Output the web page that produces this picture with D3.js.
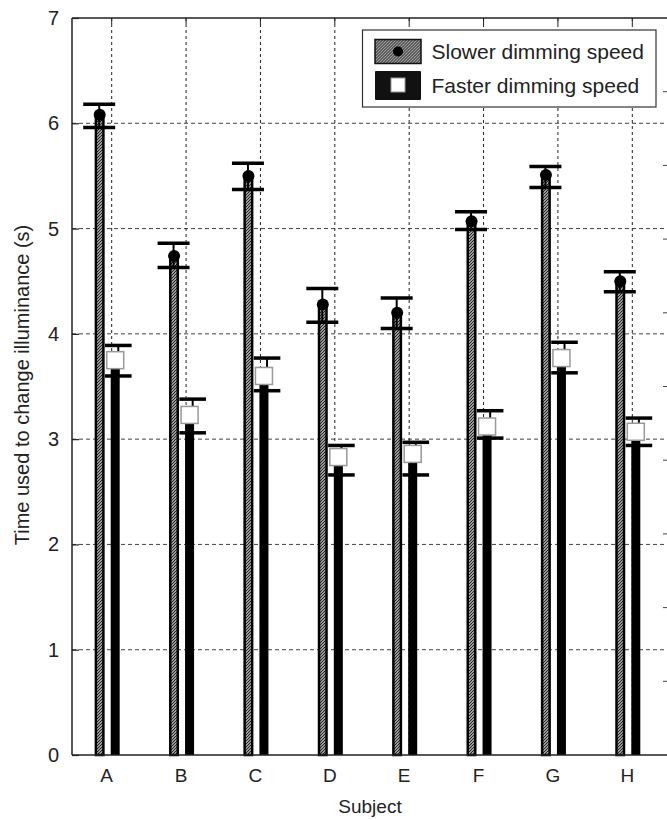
<!DOCTYPE html>
<html>
<head>
<meta charset="utf-8">
<script src="https://cdn.jsdelivr.net/npm/d3@7"></script>
<style>
  body { margin: 0; background: #fff; }
  svg { display: block; font-family: "Liberation Sans", Arial, sans-serif; }
</style>
</head>
<body>
<div id="chart"></div>
<script>
// data
const subjects = ["A", "B", "C", "D", "E", "F", "G", "H"];
const slowerMean = [6.08, 4.74, 5.50, 4.28, 4.20, 5.07, 5.51, 4.50];
const slowerHigh = [6.18, 4.86, 5.62, 4.43, 4.34, 5.16, 5.59, 4.59];
const slowerLow  = [5.96, 4.63, 5.37, 4.11, 4.05, 4.99, 5.39, 4.40];
const fasterMean = [3.75, 3.23, 3.60, 2.83, 2.86, 3.12, 3.77, 3.07];
const fasterHigh = [3.89, 3.38, 3.77, 2.94, 2.97, 3.27, 3.92, 3.20];
const fasterLow  = [3.60, 3.06, 3.46, 2.66, 2.66, 3.01, 3.63, 2.94];
const yTicks = [0, 1, 2, 3, 4, 5, 6, 7];
const legendLabels = ["Slower dimming speed", "Faster dimming speed"];

const width = 667;
const height = 820;
const margin = { top: 18, right: 0, bottom: 65, left: 72 };
const plotRight = width - margin.right;
const plotBottom = height - margin.bottom;

const svg = d3.select("#chart").append("svg")
  .attr("width", width)
  .attr("height", height);

// hatch for the slower bars
const defs = svg.append("defs");
const pat = defs.append("pattern")
  .attr("id", "hatch")
  .attr("patternUnits", "userSpaceOnUse")
  .attr("width", 3)
  .attr("height", 3);
pat.append("rect").attr("width", 3).attr("height", 3).attr("fill", "#fff");
pat.append("path")
  .attr("d", "M0,3 L3,0 M-1,1 L1,-1 M2,4 L4,2")
  .attr("stroke", "#222")
  .attr("stroke-width", 1.3);

const x = d3.scalePoint()
  .domain(subjects)
  .range([111.7, 632.3]);

const y = d3.scaleLinear()
  .domain([0, 7])
  .range([plotBottom, margin.top]);

// grid
svg.append("g")
  .selectAll("line")
  .data(yTicks.slice(1, -1))
  .enter().append("line")
  .attr("x1", margin.left)
  .attr("x2", plotRight)
  .attr("y1", d => y(d))
  .attr("y2", d => y(d))
  .attr("stroke", "#444")
  .attr("stroke-width", 1)
  .attr("stroke-dasharray", "4,3");

svg.append("g")
  .selectAll("line")
  .data(subjects)
  .enter().append("line")
  .attr("x1", d => x(d))
  .attr("x2", d => x(d))
  .attr("y1", margin.top)
  .attr("y2", plotBottom)
  .attr("stroke", "#222")
  .attr("stroke-width", 1)
  .attr("stroke-dasharray", "3,3");

// bars
const rows = subjects.map((s, i) => ({
  s,
  sm: slowerMean[i], sh: slowerHigh[i], sl: slowerLow[i],
  fm: fasterMean[i], fh: fasterHigh[i], fl: fasterLow[i]
}));

const groups = svg.append("g")
  .selectAll("g")
  .data(rows)
  .enter().append("g");

// slower: hatched bar with black border
groups.append("rect")
  .attr("x", d => x(d.s) - 15.8)
  .attr("y", d => y(d.sm))
  .attr("width", 7.5)
  .attr("height", d => y(0) - y(d.sm))
  .attr("fill", "url(#hatch)")
  .attr("stroke", "#000")
  .attr("stroke-width", 2.5);

// faster: solid black bar
groups.append("rect")
  .attr("x", d => x(d.s) - 1)
  .attr("y", d => y(d.fm))
  .attr("width", 9)
  .attr("height", d => y(0) - y(d.fm))
  .attr("fill", "#000");

// error bars
function errorBar(sel, cx, hi, lo, half) {
  sel.append("line")
    .attr("x1", cx).attr("x2", cx)
    .attr("y1", d => y(hi(d))).attr("y2", d => y(lo(d)))
    .attr("stroke", "#000").attr("stroke-width", 2);
  [hi, lo].forEach(f => {
    sel.append("line")
      .attr("x1", d => cx(d) - half).attr("x2", d => cx(d) + half)
      .attr("y1", d => y(f(d))).attr("y2", d => y(f(d)))
      .attr("stroke", "#000").attr("stroke-width", 3.5);
  });
}
errorBar(groups, d => x(d.s) - 12.5, d => d.sh, d => d.sl, 16);
errorBar(groups, d => x(d.s) + 6.6, d => d.fh, d => d.fl, 13.3);

// markers
groups.append("circle")
  .attr("cx", d => x(d.s) - 12)
  .attr("cy", d => y(d.sm))
  .attr("r", 6)
  .attr("fill", "#000");

groups.append("rect")
  .attr("x", d => x(d.s) + 3.5 - 8.5)
  .attr("y", d => y(d.fm) - 8.5)
  .attr("width", 17)
  .attr("height", 17)
  .attr("fill", "#fff")
  .attr("stroke", "#999")
  .attr("stroke-width", 1.5);

// axes / frame
svg.append("line")
  .attr("x1", margin.left).attr("x2", margin.left)
  .attr("y1", margin.top).attr("y2", plotBottom)
  .attr("stroke", "#222").attr("stroke-width", 1.5);
svg.append("line")
  .attr("x1", margin.left).attr("x2", plotRight)
  .attr("y1", plotBottom).attr("y2", plotBottom)
  .attr("stroke", "#222").attr("stroke-width", 1.5);
svg.append("line")
  .attr("x1", margin.left).attr("x2", plotRight)
  .attr("y1", margin.top).attr("y2", margin.top)
  .attr("stroke", "#222").attr("stroke-width", 1.5);

const yAxis = svg.append("g")
  .attr("transform", `translate(${margin.left},0)`)
  .call(d3.axisRight(y).tickValues(yTicks).tickSize(7).tickFormat(""));
yAxis.select(".domain").remove();
yAxis.selectAll("line").attr("stroke", "#222").attr("stroke-width", 1.2);

svg.append("g")
  .selectAll("text")
  .data(yTicks)
  .enter().append("text")
  .attr("x", margin.left - 13)
  .attr("y", d => y(d) + 7)
  .attr("text-anchor", "end")
  .attr("font-size", 20)
  .attr("fill", "#222")
  .text(d => d);

// top ticks
svg.append("g")
  .selectAll("line")
  .data(subjects)
  .enter().append("line")
  .attr("x1", d => x(d)).attr("x2", d => x(d))
  .attr("y1", margin.top).attr("y2", margin.top + 6)
  .attr("stroke", "#222");

// right-side ticks
const yRight = d3.scaleLinear().domain([0, 10]).range([plotBottom, margin.top]);
svg.append("g")
  .selectAll("line")
  .data(d3.range(1, 10))
  .enter().append("line")
  .attr("x1", plotRight - 4).attr("x2", plotRight)
  .attr("y1", d => yRight(d)).attr("y2", d => yRight(d))
  .attr("stroke", "#444");

// category labels
svg.append("g")
  .selectAll("text")
  .data(subjects)
  .enter().append("text")
  .attr("x", d => x(d) - 5)
  .attr("y", plotBottom + 27)
  .attr("text-anchor", "middle")
  .attr("font-size", 19)
  .attr("fill", "#222")
  .text(d => d);

svg.append("text")
  .attr("x", 370)
  .attr("y", 813)
  .attr("text-anchor", "middle")
  .attr("font-size", 19)
  .attr("fill", "#222")
  .text("Subject");

svg.append("text")
  .attr("transform", "translate(29,385) rotate(-90)")
  .attr("text-anchor", "middle")
  .attr("font-size", 20)
  .attr("fill", "#222")
  .text("Time used to change illuminance (s)");

// legend
const legend = svg.append("g").attr("transform", "translate(362.5,30)");
legend.append("rect")
  .attr("width", 293.5).attr("height", 77)
  .attr("fill", "#fff").attr("stroke", "#333").attr("stroke-width", 1.2);

legend.append("rect")
  .attr("x", 12.5).attr("y", 9.5).attr("width", 46).attr("height", 24)
  .attr("fill", "url(#hatch)").attr("stroke", "#111").attr("stroke-width", 1.5);
legend.append("circle")
  .attr("cx", 35.5).attr("cy", 21.5).attr("r", 5).attr("fill", "#000");

legend.append("rect")
  .attr("x", 12.5).attr("y", 41).attr("width", 46).attr("height", 29)
  .attr("fill", "#111").attr("rx", 1);
legend.append("rect")
  .attr("x", 28.5).attr("y", 48).attr("width", 14).attr("height", 14)
  .attr("fill", "#fff").attr("stroke", "#999");

legend.selectAll("text.lbl")
  .data(legendLabels)
  .enter().append("text")
  .attr("class", "lbl")
  .attr("x", 69)
  .attr("y", (d, i) => 28.5 + i * 34.5)
  .attr("font-size", 21)
  .attr("fill", "#222")
  .text(d => d);
</script>
</body>
</html>
